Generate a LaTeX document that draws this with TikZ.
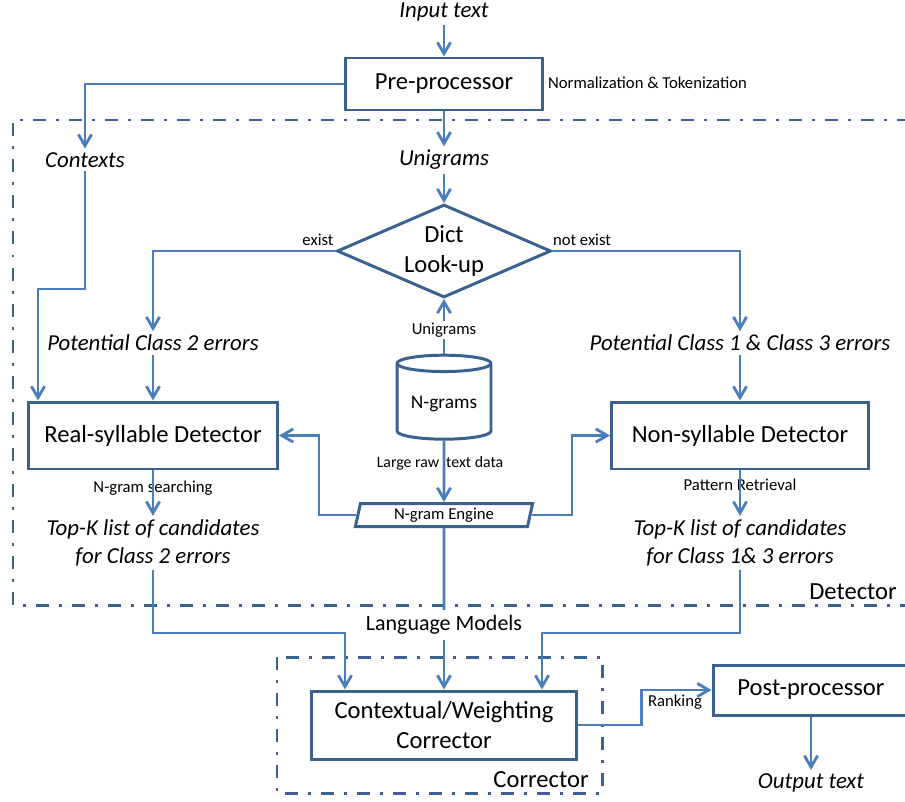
\documentclass[tikz,border=0pt]{standalone}
\usepackage{fontspec}
\setmainfont{Carlito}
\usetikzlibrary{arrows.meta,shapes.geometric}
\definecolor{lineblue}{HTML}{4A7EBB}
\definecolor{edgeblue}{HTML}{3B618F}
\tikzset{
  box/.style={draw=edgeblue, line width=1.7pt, fill=white, align=center,
    inner sep=0pt, font=\fontsize{14}{17}\selectfont},
  conn/.style={draw=lineblue, line width=1.6pt},
  arr/.style={conn, -{Straight Barb[length=6.5pt,width=7.5pt]}},
  frame/.style={draw=edgeblue, line width=1.7pt,
    dash pattern=on 7.4pt off 5.7pt on 1.7pt off 5.7pt},
  itlbl/.style={font=\fontsize{13}{16}\selectfont\itshape, align=center, inner sep=2pt},
  small/.style={font=\fontsize{9.5}{11}\selectfont, inner sep=1pt},
  bigtxt/.style={font=\fontsize{14}{17}\selectfont, inner sep=1pt},
}
\begin{document}
\begin{tikzpicture}[x=0.02cm,y=-0.02cm]
    \useasboundingbox (0,0) rectangle (905,801);
    % Detector and Corrector frames
    \draw[frame] (910,120) -- (13,120) -- (13,605) -- (910,605);
    \draw[frame] (277,657) rectangle (602,793);
    \node[bigtxt] (detlbl) at (853,592) {Detector};
    \node[bigtxt] (corlbl) at (541,780) {Corrector};
    % Pre-processing
    \node[itlbl] (input) at (444,12) {Input text};
    \node[box, minimum width=3.96cm, minimum height=1.04cm] (pre) at (444,84) {Pre-processor};
    \node[small, anchor=west] (norm) at (546,83) {Normalization \& Tokenization};
    \node[itlbl] (ctx) at (85,160) {Contexts};
    \node[itlbl] (unig) at (444,160) {Unigrams};
    % Dictionary and n-grams
    \node[diamond, box, aspect=2.3, minimum width=4.28cm, minimum height=1.86cm] (dict) at (444,251) {Dict\\Look-up};
    \node[small] (exist) at (318,240) {exist};
    \node[small] (notexist) at (582,240) {not exist};
    \node[cylinder, shape border rotate=90, aspect=0.21, draw=edgeblue, line width=1.7pt,
      minimum width=1.88cm, minimum height=1.68cm, font=\fontsize{11}{13}\selectfont] (ngrams) at (444,404) {N-grams};
    \node[small] (uglbl) at (444,330) {Unigrams};
    \node[small, font=\fontsize{9}{11}\selectfont] (raw) at (440,463) {Large raw\ \ text data};
    \node[trapezium, trapezium left angle=78, trapezium right angle=102, trapezium stretches=true,
      draw=edgeblue, line width=1.7pt, fill=white, minimum width=3.56cm, minimum height=0.46cm,
      inner sep=0pt, font=\fontsize{9.5}{11}\selectfont] (engine) at (444,515) {N-gram Engine};
    % Detectors
    \node[itlbl] (pot2) at (153,343) {Potential Class 2 errors};
    \node[itlbl] (pot13) at (740,343) {Potential Class 1 \& Class 3 errors};
    \node[box, minimum width=4.98cm, minimum height=1.34cm] (real) at (153,435.5) {Real-syllable Detector};
    \node[box, minimum width=5.14cm, minimum height=1.34cm] (non) at (740,435.5) {Non-syllable Detector};
    \node[small] (search) at (153,488) {N-gram searching};
    \node[small] (pattern) at (740,485) {Pattern Retrieval};
    \node[itlbl] (topk2) at (153,543) {Top-K list of candidates\\for Class 2 errors};
    \node[itlbl] (topk13) at (740,543) {Top-K list of candidates\\for Class 1\& 3 errors};
    % Correction
    \node[font=\fontsize{12.5}{15}\selectfont, inner sep=3pt] (lm) at (444,625) {Language Models};
    \node[box, minimum width=5.32cm, minimum height=1.36cm] (corr) at (444,725) {Contextual/Weighting\\Corrector};
    \node[box, minimum width=3.92cm, minimum height=1.0cm] (post) at (811,690) {Post-processor};
    \node[small] (rank) at (675,702) {Ranking};
    \node[itlbl] (output) at (811,783) {Output text};
    \coordinate (ctxturn) at (38,289);
    \coordinate (join2) at (345,633);
    \coordinate (join13) at (542,633);
    % Connectors
    \draw[arr] (input) -- (pre);
    \draw[arr] (pre) -- (unig);
    \draw[arr] (pre.west) -| (ctx);
    \draw[arr] (ctx) |- (ctxturn) -- (ctxturn |- real.north);
    \draw[arr] (unig) -- (dict);
    \draw[arr] (dict.west) -| (pot2);
    \draw[arr] (dict.east) -| (pot13);
    \draw[arr] (pot2) -- (real);
    \draw[arr] (pot13) -- (non);
    \draw[conn] (ngrams.top) -- (uglbl);
    \draw[arr] (uglbl) -- (dict);
    \draw[arr] (ngrams.bottom) -- (engine);
    \draw[arr] (engine.west) -| ([xshift=0.8cm]real.east) -- (real.east);
    \draw[arr] (engine.east) -| ([xshift=-0.76cm]non.west) -- (non.west);
    \draw[arr] (real) -- (topk2);
    \draw[arr] (non) -- (topk13);
    \draw[arr] (topk2) |- (join2) -- (join2 |- corr.north);
    \draw[arr] (topk13) |- (join13) -- (join13 |- corr.north);
    \draw[conn] (engine) -- (lm);
    \draw[arr] (lm) -- (corr);
    \draw[arr] (corr.east) -- ++(63,0) |- (post.west);
    \draw[arr] (post) -- (output);
\end{tikzpicture}
\end{document}
